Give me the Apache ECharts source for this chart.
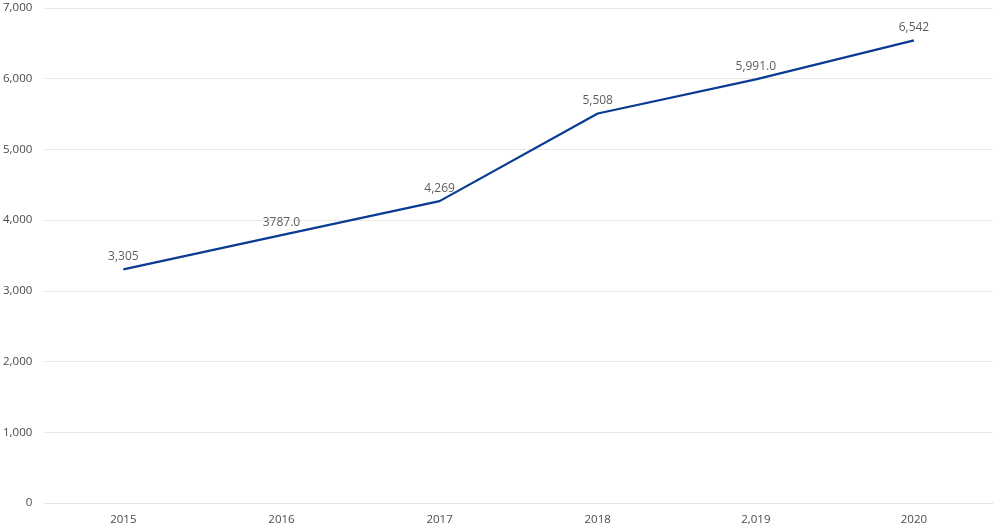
<!DOCTYPE html>
<html>
<head>
<meta charset="utf-8">
<script src="https://cdn.jsdelivr.net/npm/echarts@6/dist/echarts.min.js"></script>
<style>html,body{margin:0;padding:0;background:#fff}#c{width:1000px;height:530px}</style>
</head>
<body>
<div id="c"></div>
<script>
var categories = ['2015', '2016', '2017', '2018', '2,019', '2020'];
var values = [3305, 3787, 4269, 5508, 5991, 6542];
var valueLabels = ['3,305', '3787.0', '4,269', '5,508', '5,991.0', '6,542'];
var yTicks = [0, 1000, 2000, 3000, 4000, 5000, 6000, 7000];

var chart = echarts.init(document.getElementById('c'));
var fontFam = '"Open Sans", "Noto Sans", sans-serif';
chart.setOption({
  animation: false,
  grid: { left: 44, right: 7, top: 8, bottom: 27, containLabel: false },
  xAxis: {
    type: 'category',
    data: categories,
    boundaryGap: true,
    axisLine: { show: true, lineStyle: { color: '#e3e3e3', width: 1 } },
    axisTick: { show: false },
    axisLabel: { color: '#4a4a4a', fontSize: 11.5, fontFamily: fontFam, margin: 11 }
  },
  yAxis: {
    type: 'value',
    min: yTicks[0],
    max: yTicks[yTicks.length - 1],
    interval: 1000,
    axisLine: { show: false },
    axisTick: { show: false },
    splitLine: { lineStyle: { color: '#e8e8e8', width: 1 } },
    axisLabel: {
      color: '#4a4a4a', fontSize: 11.5, fontFamily: fontFam, margin: 12,
      formatter: function (v) { return v.toLocaleString('en-US'); }
    }
  },
  series: [{
    type: 'line',
    data: values,
    symbol: 'none',
    lineStyle: { color: '#0a3b93', width: 2.25 },
    itemStyle: { color: '#0a3b93' },
    silent: true
  }, {
    type: 'scatter',
    data: values,
    symbol: 'circle',
    symbolSize: 2,
    itemStyle: { color: 'rgba(0,0,0,0)' },
    silent: true,
    label: {
      show: true,
      position: 'top',
      distance: 6,
      color: '#333333',
      fontSize: 12,
      fontFamily: fontFam,
      formatter: function (p) { return valueLabels[p.dataIndex]; }
    }
  }]
});
</script>
</body>
</html>
